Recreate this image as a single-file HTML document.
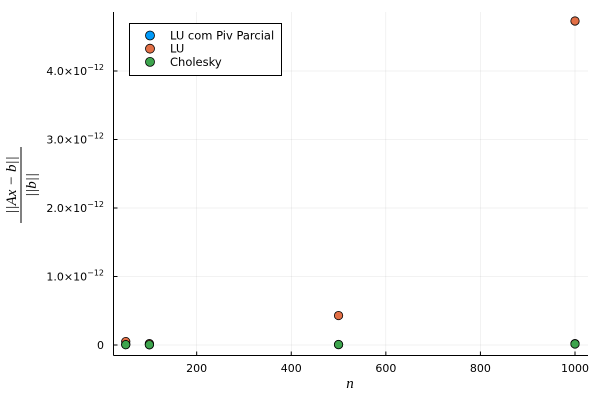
<!DOCTYPE html>
<html><head><meta charset="utf-8"><style>
body{margin:0;background:#fff;font-family:"Liberation Sans","DejaVu Sans",sans-serif}
svg text{font-family:"DejaVu Sans","Liberation Sans",sans-serif}
</style></head><body>
<svg id="c" width="600" height="400" xmlns="http://www.w3.org/2000/svg">
<rect width="600" height="400" fill="#fff"/>
</svg>
<script>
const ns="http://www.w3.org/2000/svg";
const svg=document.getElementById('c');
const nVals=[50,100,500,1000];
const seriesNames=["LU com Piv Parcial","LU","Cholesky"];
const seriesColors=["#009af9","#e26f46","#3da44d"];
const luPiv=[0.005e-12,0.004e-12,0.008e-12,0.02e-12];
const lu=[0.05e-12,0.02e-12,0.43e-12,4.73e-12];
const cholesky=[0.005e-12,0.004e-12,0.006e-12,0.015e-12];
const xTicks=[200,400,600,800,1000];
const yTicks=[0,1e-12,2e-12,3e-12,4e-12];
const yTickMant=["1.0","2.0","3.0","4.0"];
const L=113.5,R=588,T=12,B=355.5;
const SERIF='font-family:"Liberation Serif","DejaVu Serif",serif;font-style:italic';
function xs(v){return 102.1+v*0.4729;}
function ys(v){return 345-v*68.5e12;}
function el(tag,attrs,parent){const e=document.createElementNS(ns,tag);for(const k in attrs)e.setAttribute(k,attrs[k]);(parent||svg).appendChild(e);return e;}
xTicks.forEach(t=>{const g=el('line',{x1:xs(t),x2:xs(t),y1:T,y2:B,stroke:'#000','stroke-opacity':0.1,'stroke-width':0.5});

});
yTicks.forEach(t=>{const g=el('line',{x1:L,x2:R,y1:ys(t),y2:ys(t),stroke:'#000','stroke-opacity':0.1,'stroke-width':0.5});

});
const xa=el('line',{x1:L,x2:R,y1:B,y2:B,stroke:'#000','stroke-width':1});


const ya=el('line',{x1:L,x2:L,y1:T,y2:B,stroke:'#000','stroke-width':1});


xTicks.forEach(t=>{el('line',{x1:xs(t),x2:xs(t),y1:B,y2:B-4,stroke:'#000'});
const tx=el('text',{x:xs(t),y:372,'font-size':11,'text-anchor':'middle',fill:'#000'});tx.textContent=t;

});
yTicks.forEach((t,i)=>{el('line',{x1:L,x2:L+4,y1:ys(t),y2:ys(t),stroke:'#000'});
const tx=el('text',{x:104,y:ys(t)+4,'font-size':11,'text-anchor':'end',fill:'#000'});
if(i===0){tx.textContent='0';}else{tx.textContent=yTickMant[i-1]+'×10';const s=el('tspan',{dy:-5,'font-size':8},tx);s.textContent='−12';}

});
const xt=el('text',{x:350,y:388,'font-size':15,'text-anchor':'middle',style:SERIF});xt.textContent='n';


const yg=el('g',{transform:'translate(22,185) rotate(-90)'});


const t1=el('text',{x:0,y:-6,'font-size':15,'text-anchor':'middle',style:SERIF},yg);t1.textContent='||Ax − b||';
el('line',{x1:-38,x2:38,y1:-1,y2:-1,stroke:'#000','stroke-width':1},yg);
const t2=el('text',{x:0,y:14,'font-size':15,'text-anchor':'middle',style:SERIF},yg);t2.textContent='||b||';
[luPiv,lu,cholesky].forEach((arr,si)=>{arr.forEach((v,i)=>{const c=el('circle',{cx:xs(nVals[i]),cy:ys(v),r:4.2,fill:seriesColors[si],stroke:'#000','stroke-width':0.8});

});});
const lg=el('g',{});


el('rect',{x:129.5,y:23.5,width:152,height:52,fill:'#fff',stroke:'#000','stroke-width':1},lg);
seriesNames.forEach((n,i)=>{const y=35.5+i*13.2;
el('circle',{cx:150,cy:y,r:4.5,fill:seriesColors[i],stroke:'#000','stroke-width':0.8},lg);
const t=el('text',{x:170,y:y+4,'font-size':11.5},lg);t.textContent=n;

});
</script>
</body></html>
